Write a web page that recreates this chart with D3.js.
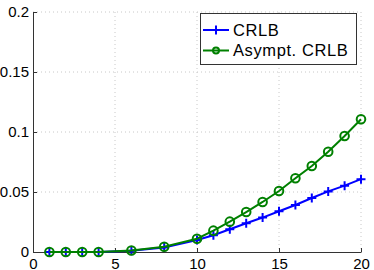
<!DOCTYPE html>
<html>
<head>
<meta charset="utf-8">
<script src="https://cdn.jsdelivr.net/npm/d3@7"></script>
<style>
  body { margin: 0; background: #fff; }
  text { font-family: "Liberation Sans", Arial, sans-serif; }
</style>
</head>
<body>
<div id="chart"></div>
<script>
// datos
const n = [1, 2, 3, 4, 6, 8, 10, 11, 12, 13, 14, 15, 16, 17, 18, 19, 20];
const crlb = [0, 0, 0, 0, 0.0010, 0.0038, 0.0100, 0.0140, 0.0190, 0.0240, 0.0287, 0.0340, 0.0392, 0.0450, 0.0505, 0.0553, 0.0607];
const asympt = [0, 0, 0, 0, 0.0012, 0.0044, 0.0111, 0.0178, 0.0253, 0.0333, 0.0417, 0.0508, 0.0614, 0.0717, 0.0836, 0.0967, 0.1106];
const xTicks = [0, 5, 10, 15, 20];
const yTicks = [0, 0.05, 0.1, 0.15, 0.2];
const seriesNames = ["CRLB", "Asympt. CRLB"];

const W = 374, H = 270;
const margin = { top: 12, right: 13, bottom: 18, left: 33 };
const width = W - margin.left - margin.right,
  height = H - margin.top - margin.bottom;

const svg = d3.select("#chart").append("svg")
  .attr("width", W).attr("height", H);
const g = svg.append("g")
  .attr("transform", "translate(" + margin.left + "," + margin.top + ")");

const x = d3.scaleLinear().domain([0, 20]).range([0, width]);
const y = d3.scaleLinear().domain([0, 0.2]).range([height, 0]);

// grilla punteada
g.selectAll(".gx").data(xTicks.slice(1)).enter().append("line")
  .attr("x1", d => x(d)).attr("x2", d => x(d))
  .attr("y1", 0).attr("y2", height)
  .attr("stroke", "#c8c8c8").attr("stroke-dasharray", "1,3");
g.selectAll(".gy").data(yTicks.slice(1)).enter().append("line")
  .attr("x1", 0).attr("x2", width)
  .attr("y1", d => y(d)).attr("y2", d => y(d))
  .attr("stroke", "#c8c8c8").attr("stroke-dasharray", "1,3");

// ejes
const xAxis = g.append("g")
  .attr("transform", "translate(0," + height + ")")
  .call(d3.axisBottom(x).tickValues(xTicks).tickSizeInner(-4).tickSizeOuter(0).tickPadding(6));
const yAxis = g.append("g")
  .call(d3.axisLeft(y).tickValues(yTicks).tickFormat(d => d === 0 ? "0" : String(d)).tickSizeInner(-4).tickSizeOuter(0).tickPadding(4));
[xAxis, yAxis].forEach(a => {
  a.select(".domain").attr("stroke", "#333");
  a.selectAll(".tick line").attr("stroke", "#333");
  a.selectAll("text").attr("fill", "#000")
    .style("font-size", "15px")
    .style("font-family", "'Liberation Sans', Arial, sans-serif");
});
xAxis.selectAll("text").attr("dy", "0.75em");

const line = d3.line().x((d, i) => x(n[i])).y(d => y(d));

// CRLB
g.append("path").datum(crlb)
  .attr("d", line).attr("fill", "none")
  .attr("stroke", "#0000ff").attr("stroke-width", 2);
const plus = d3.symbol().type(d3.symbolCross);
g.selectAll(".plus").data(crlb).enter().append("path")
  .attr("d", "M-4.5,0H4.5M0,-4.5V4.5")
  .attr("transform", (d, i) => "translate(" + x(n[i]) + "," + y(d) + ")")
  .attr("stroke", "#0000ff").attr("stroke-width", 2).attr("fill", "none");

// Asympt. CRLB
g.append("path").datum(asympt)
  .attr("d", line).attr("fill", "none")
  .attr("stroke", "#008000").attr("stroke-width", 2);
g.selectAll(".circ").data(asympt).enter().append("circle")
  .attr("cx", (d, i) => x(n[i])).attr("cy", d => y(d)).attr("r", 4.3)
  .attr("fill", "none").attr("stroke", "#008000").attr("stroke-width", 2);

// leyenda
const leg = svg.append("g");
leg.append("rect")
  .attr("x", 200.5).attr("y", 13.5).attr("width", 156).attr("height", 51)
  .attr("fill", "#fff").attr("stroke", "#333").attr("stroke-width", 1);
const colors = ["#0000ff", "#008000"];
seriesNames.forEach((name, i) => {
  const ly = 30 + i * 20.5;
  leg.append("line").attr("x1", 203).attr("x2", 229).attr("y1", ly).attr("y2", ly)
    .attr("stroke", colors[i]).attr("stroke-width", 2);
  if (i === 0) {
    leg.append("path").attr("d", "M-4.5,0H4.5M0,-4.5V4.5")
      .attr("transform", "translate(216," + ly + ")")
      .attr("stroke", colors[i]).attr("stroke-width", 2);
  } else {
    leg.append("circle").attr("cx", 216).attr("cy", ly).attr("r", 3)
      .attr("fill", "none").attr("stroke", colors[i]).attr("stroke-width", 2);
  }
  leg.append("text").attr("x", 233).attr("y", ly).attr("dy", "0.36em")
    .style("font-size", "16.5px").style("letter-spacing", "0.6px")
    .text(name);
});
</script>
</body>
</html>
